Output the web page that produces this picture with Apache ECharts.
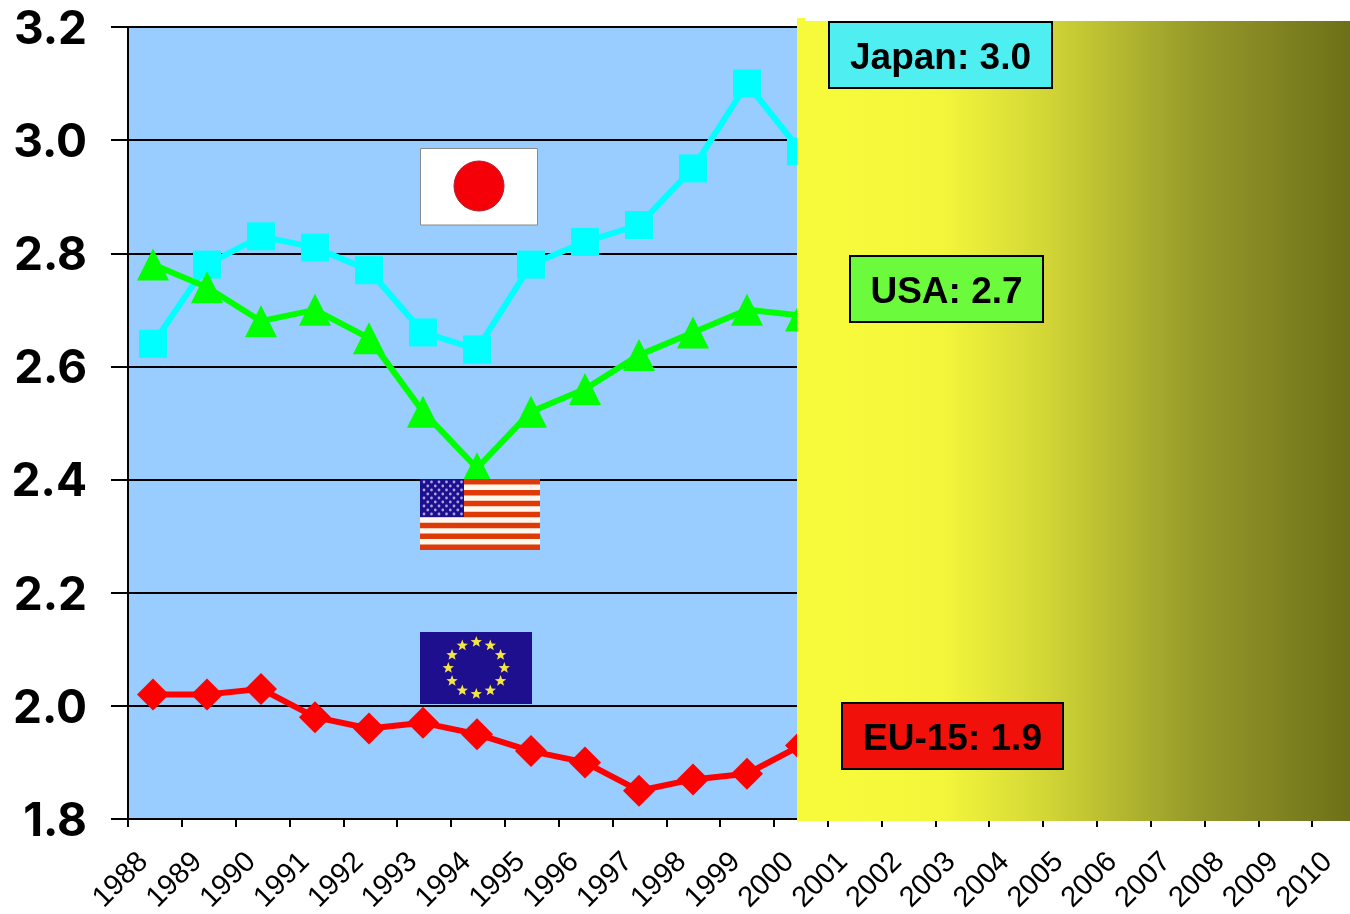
<!DOCTYPE html>
<html><head><meta charset="utf-8">
<style>html,body{margin:0;padding:0;background:#fff;overflow:hidden}#c{width:1350px;height:914px}</style>
<script src="https://cdn.jsdelivr.net/npm/echarts@6/dist/echarts.min.js"></script>
</head><body><div id="c"></div>
<script>
const years = ['1988','1989','1990','1991','1992','1993','1994','1995','1996','1997','1998','1999','2000','2001','2002','2003','2004','2005','2006','2007','2008','2009','2010'];
const japan = [2.64,2.78,2.83,2.81,2.77,2.66,2.63,2.78,2.82,2.85,2.95,3.10,2.98];
const usa   = [2.78,2.74,2.68,2.70,2.65,2.52,2.42,2.52,2.56,2.62,2.66,2.70,2.69];
const eu15  = [2.02,2.02,2.03,1.98,1.96,1.97,1.95,1.92,1.90,1.85,1.87,1.88,1.93];
const calloutTexts = ['Japan: 3.0','USA: 2.7','EU-15: 1.9'];

function star(cx, cy, r) {
  const pts = [];
  for (let i = 0; i < 10; i++) {
    const a = -Math.PI / 2 + i * Math.PI / 5, q = i % 2 ? r * 0.42 : r;
    pts.push([cx + q * Math.cos(a), cy + q * Math.sin(a)]);
  }
  return { type: 'polygon', z: 51, shape: { points: pts }, style: { fill: '#F2E545' } };
}
const gfx = [];
gfx.push({ type: 'rect', z: 50, shape: { x: 420.5, y: 148.5, width: 117, height: 76.5 }, style: { fill: '#fff', stroke: '#8a8a8a', lineWidth: 1 } });
gfx.push({ type: 'circle', z: 51, shape: { cx: 479, cy: 186, r: 25 }, style: { fill: '#F50008', stroke: '#B02030', lineWidth: 1 } });
gfx.push({ type: 'rect', z: 50, shape: { x: 420, y: 479, width: 120, height: 71 }, style: { fill: '#FFF8EE' } });
for (let i = 0; i < 7; i++) {
  gfx.push({ type: 'rect', z: 51, shape: { x: 420, y: 479 + i * 71 / 6.5, width: 120, height: 71 / 13 }, style: { fill: '#DD3A08' } });
}
gfx.push({ type: 'rect', z: 52, shape: { x: 420, y: 479, width: 44, height: 38 }, style: { fill: '#1E0F8E' } });
for (let r = 0; r < 9; r++) {
  for (let c = 0; c < (r % 2 ? 5 : 6); c++) {
    gfx.push({ type: 'circle', z: 53, shape: { cx: 424 + (r % 2 ? 3.8 : 0) + c * 7.5, cy: 482 + r * 4, r: 1.4 }, style: { fill: '#A9A4E0' } });
  }
}
gfx.push({ type: 'rect', z: 50, shape: { x: 420, y: 632, width: 112, height: 72 }, style: { fill: '#1E0F8E' } });
for (let i = 0; i < 12; i++) {
  const a = i * Math.PI / 6 - Math.PI / 2;
  gfx.push(star(476.3 + 28 * Math.cos(a), 668 + 26 * Math.sin(a), 6));
}
gfx.push({ type: 'rect', z: 100, shape: { x: 797, y: 21, width: 553, height: 800 },
  style: { fill: { type: 'linear', x: 0, y: 0, x2: 1, y2: 0, colorStops: [
    { offset: 0, color: '#F7FA3B' }, { offset: 0.11, color: '#F7FA3B' }, { offset: 0.27, color: '#F2F53A' },
    { offset: 0.44, color: '#D4D836' }, { offset: 0.72, color: '#969A2A' }, { offset: 1, color: '#6E7018' }
  ] } } });
gfx.push({ type: 'rect', z: 100, shape: { x: 797, y: 18, width: 8, height: 4 }, style: { fill: '#F7FA3B' } });
const boxes = [
  { x: 829, y: 22, w: 223, h: 66, fill: '#4FEFF1' },
  { x: 850, y: 256, w: 193, h: 66, fill: '#6CFB3C' },
  { x: 842, y: 703, w: 221, h: 66, fill: '#F1100A' }
];
boxes.forEach((b, i) => {
  gfx.push({ type: 'rect', z: 110, shape: { x: b.x, y: b.y, width: b.w, height: b.h }, style: { fill: b.fill, stroke: '#000', lineWidth: 2 } });
  gfx.push({ type: 'text', z: 111, style: { x: b.x + b.w / 2, y: b.y + b.h / 2 + 4, text: calloutTexts[i], align: 'center', verticalAlign: 'middle',
    font: 'bold 37px "Liberation Sans", Arial, sans-serif', fill: '#000' } });
});

const chart = echarts.init(document.getElementById('c'), null, { renderer: 'canvas' });
const hiddenGrid = { left: 126, top: 27, width: 1242, height: 792, outerBoundsMode: 'none' };
chart.setOption({
  animation: false,
  backgroundColor: '#fff',
  grid: [
    { left: 128, top: 27, width: 1238, height: 792, show: true, backgroundColor: '#99CCFF', borderWidth: 0, outerBoundsMode: 'none' },
    hiddenGrid
  ],
  xAxis: [{
    type: 'category', data: years, boundaryGap: true, gridIndex: 0,
    axisLine: { lineStyle: { color: '#000', width: 2 } },
    axisTick: { show: true, length: 8, interval: 0, lineStyle: { color: '#000', width: 2 } },
    axisLabel: { interval: 0, rotate: 45, margin: 27, padding: [0, 16, 0, 0], color: '#000', fontSize: 29, fontFamily: '"Liberation Sans", Arial, sans-serif' },
    splitLine: { show: false }
  }, { type: 'category', data: years, gridIndex: 1, show: false }],
  yAxis: [{
    type: 'value', min: 1.8, max: 3.2, interval: 0.2, gridIndex: 0,
    axisLine: { show: true, lineStyle: { color: '#000', width: 2 } },
    axisTick: { show: true, length: 17, lineStyle: { color: '#000', width: 2 } },
    axisLabel: { margin: 41, verticalAlign: 'top', padding: [-20, 0, 0, 0], color: '#000', fontSize: 46, fontWeight: 'bold', fontFamily: 'Inter, sans-serif',
      formatter: v => v.toFixed(1) },
    splitLine: { show: true, lineStyle: { color: '#000', width: 2 } }
  }, { type: 'value', min: 1.8, max: 3.2, interval: 0.2, gridIndex: 1, show: false }],
  series: [
    { name: 'Japan', type: 'line', xAxisIndex: 1, yAxisIndex: 1, data: japan, symbol: 'rect', symbolSize: 28, itemStyle: { color: '#00FFFF' }, lineStyle: { color: '#00FFFF', width: 6 }, clip: false },
    { name: 'USA', type: 'line', xAxisIndex: 1, yAxisIndex: 1, data: usa, symbol: 'triangle', symbolSize: 32, itemStyle: { color: '#00FF00' }, lineStyle: { color: '#00FF00', width: 6 }, clip: false },
    { name: 'EU-15', type: 'line', xAxisIndex: 1, yAxisIndex: 1, data: eu15, symbol: 'diamond', symbolSize: 32, itemStyle: { color: '#FF0000' }, lineStyle: { color: '#FF0000', width: 6 }, clip: false }
  ],
  graphic: { elements: gfx }
});
</script></body></html>
